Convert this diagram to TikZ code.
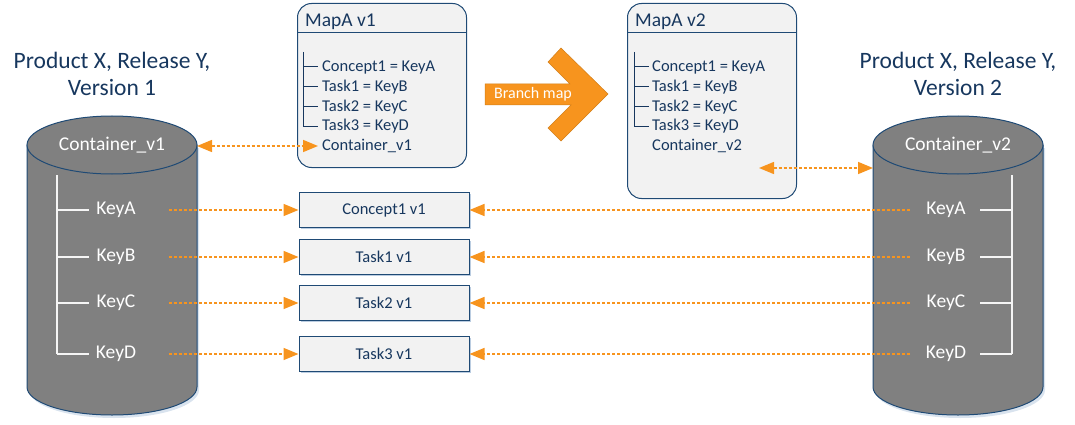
\documentclass[tikz,border=0pt]{standalone}
\usepackage{fontspec}
\setmainfont{Carlito}
\usetikzlibrary{arrows.meta,shadows}
\definecolor{navy}{HTML}{17375E}
\definecolor{edgec}{HTML}{1F4A75}
\definecolor{org}{HTML}{F7941E}
\definecolor{boxfill}{HTML}{F2F2F2}
\definecolor{cylgray}{HTML}{808080}
\definecolor{shadc}{HTML}{B4C8DE}
\begin{document}
\begin{tikzpicture}[x=1pt,y=-1pt,
  >={Triangle[length=15pt,width=12pt]},
  title/.style={text=navy, font=\fontsize{23.5}{27}\selectfont, align=center},
  keytxt/.style={text=white, font=\fontsize{19.5}{22}\selectfont, inner sep=0pt},
  cylbody/.style={fill=cylgray, draw=edgec, line width=1pt},
  tree/.style={draw=white!92!gray, line width=1.5pt},
  itembox/.style={draw=edgec, fill=boxfill, line width=1pt, minimum width=170pt, minimum height=35pt, inner sep=0pt, text=navy, font=\fontsize{16.5}{20}\selectfont, drop shadow={shadow xshift=1.5pt, shadow yshift=-1.5pt, fill=shadc, opacity=0.9}},
  mapbox/.style={draw=edgec, fill=boxfill, rounded corners=14pt, line width=1pt, inner sep=0pt, anchor=north west},
  maptxt/.style={text=navy, font=\fontsize{16.5}{20}\selectfont, anchor=west, inner sep=0pt},
  maphead/.style={text=navy, font=\fontsize{19.5}{23}\selectfont, anchor=base west, inner sep=0pt},
  maptree/.style={draw=navy, line width=1pt},
  link/.style={draw=org, line width=1.5pt, dash pattern=on 3pt off 2pt}
]
\useasboundingbox (0,0) rectangle (1075,425);

% titles
\node[title] (t1) at (112,74) {Product X, Release Y,\\Version 1};
\node[title] (t2) at (958,74) {Product X, Release Y,\\Version 2};

% left cylinder
\fill[shadc, opacity=0.5] (29,148) -- (29,390) arc[start angle=180,end angle=0,x radius=85,y radius=28] -- (199,148) -- cycle;
\draw[cylbody] (27,145) -- (27,387) arc[start angle=180,end angle=0,x radius=85,y radius=28] -- (197,145) -- cycle;
\draw[cylbody] (112,145) ellipse[x radius=85, y radius=29];
\node[keytxt] (c1) at (112,145) {Container\_v1};
\coordinate (c1e) at (197,146);

% right cylinder
\fill[shadc, opacity=0.5] (875,148) -- (875,390) arc[start angle=180,end angle=0,x radius=85,y radius=28] -- (1045,148) -- cycle;
\draw[cylbody] (873,145) -- (873,387) arc[start angle=180,end angle=0,x radius=85,y radius=28] -- (1043,145) -- cycle;
\draw[cylbody] (958,145) ellipse[x radius=85, y radius=29];
\node[keytxt] (c2) at (958,145) {Container\_v2};
\coordinate (c2w) at (873,168);

% left tree
\draw[tree] (57,175) -- (57,354);
\foreach \y in {210,257,303,354} \draw[tree] (57,\y) -- (89,\y);
\node[keytxt] (l1) at (116,210) {KeyA};
\node[keytxt] (l2) at (116,257) {KeyB};
\node[keytxt] (l3) at (116,303) {KeyC};
\node[keytxt] (l4) at (116,354) {KeyD};

% right tree
\draw[tree] (1012,175) -- (1012,354);
\foreach \y in {210,257,303,354} \draw[tree] (980,\y) -- (1012,\y);
\node[keytxt] (r1) at (946,210) {KeyA};
\node[keytxt] (r2) at (946,257) {KeyB};
\node[keytxt] (r3) at (946,303) {KeyC};
\node[keytxt] (r4) at (946,354) {KeyD};

% middle boxes
\node[itembox] (b1) at (384,210) {Concept1 v1};
\node[itembox] (b2) at (384,257) {Task1 v1};
\node[itembox] (b3) at (384,303) {Task2 v1};
\node[itembox] (b4) at (384,354) {Task3 v1};

% map v1
\node[mapbox, minimum width=169pt, minimum height=164pt] (map1) at (297,3) {};
\draw[edgec, line width=1pt] (297,33) -- (466,33);
\node[maphead] (h1) at (305,27) {MapA v1};
\draw[maptree] (303,52) -- (303,126);
\foreach \y in {67,87,107,126} \draw[maptree] (303,\y) -- (318,\y);
\node[maptxt] (m1a) at (322,67) {Concept1 = KeyA};
\node[maptxt] (m1b) at (322,87) {Task1 = KeyB};
\node[maptxt] (m1c) at (322,107) {Task2 = KeyC};
\node[maptxt] (m1d) at (322,126) {Task3 = KeyD};
\node[maptxt] (m1e) at (322,146) {Container\_v1};
\coordinate (m1p) at (318,146);

% map v2
\node[mapbox, minimum width=169pt, minimum height=195pt] (map2) at (627,3) {};
\draw[edgec, line width=1pt] (627,33) -- (796,33);
\node[maphead] (h2) at (635,27) {MapA v2};
\draw[maptree] (634,52) -- (634,126);
\foreach \y in {67,87,107,126} \draw[maptree] (634,\y) -- (649,\y);
\node[maptxt] (m2a) at (652,67) {Concept1 = KeyA};
\node[maptxt] (m2b) at (652,87) {Task1 = KeyB};
\node[maptxt] (m2c) at (652,107) {Task2 = KeyC};
\node[maptxt] (m2d) at (652,126) {Task3 = KeyD};
\node[maptxt] (m2e) at (652,146) {Container\_v2};
\coordinate (m2p) at (759,168);

% branch arrow
\draw[fill=org, draw=org!85!black, line width=0.5pt] (485,84) -- (570,84) -- (548,62) -- (561,48) -- (608,94) -- (561,141) -- (548,128) -- (571,105) -- (485,105) -- cycle;
\node[text=white, font=\fontsize{16}{19}\selectfont] (bm) at (533,94) {Branch map};

% connectors
\draw[link, <->] (c1e) -- (m1p);
\draw[link, <->] (m2p) -- (c2w);
\coordinate (ls1) at (169,210);
\coordinate (ls2) at (169,257);
\coordinate (ls3) at (169,303);
\coordinate (ls4) at (169,354);
\coordinate (rs1) at (910,210);
\coordinate (rs2) at (910,257);
\coordinate (rs3) at (910,303);
\coordinate (rs4) at (910,354);
\foreach \i in {1,2,3,4} {
  \draw[link, ->] (ls\i) -- (b\i.west);
  \draw[link, ->] (rs\i) -- (b\i.east);
}
\end{tikzpicture}
\end{document}
